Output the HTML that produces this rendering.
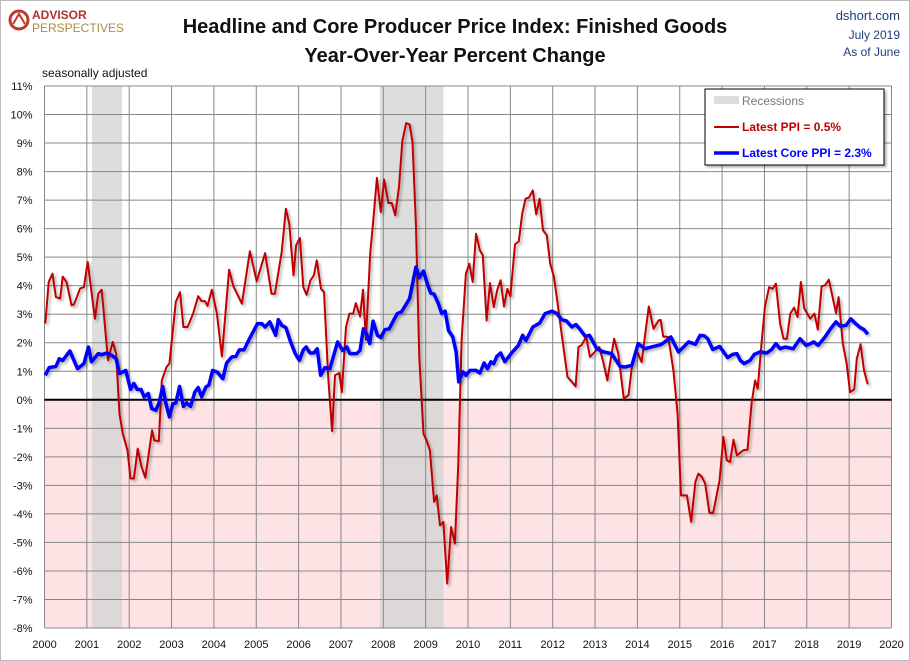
<!DOCTYPE html>
<html><head><meta charset="utf-8">
<style>
body{margin:0;background:#fff;font-family:"Liberation Sans",sans-serif;}
#wrap{position:relative;width:908px;height:659px;border:1px solid #bbb;overflow:hidden;background:#fff}
svg text{font-family:"Liberation Sans",sans-serif}
</style></head><body>
<div id="wrap">
<svg id="chart" width="910" height="661" style="position:absolute;left:-1px;top:-1px">
<defs><filter id="sh" x="-5%" y="-5%" width="110%" height="110%"><feDropShadow dx="2" dy="2" stdDeviation="1.2" flood-color="#000" flood-opacity="0.3"/></filter></defs>
<g id="bg"></g><g id="grid"></g><g id="series"></g><g id="axes"></g>
<text x="455" y="33" text-anchor="middle" font-size="20" font-weight="bold" fill="#111">Headline and Core Producer Price Index: Finished Goods</text>
<text x="455" y="62" text-anchor="middle" font-size="20" font-weight="bold" fill="#111">Year-Over-Year Percent Change</text>
<text x="900" y="20" text-anchor="end" font-size="13" fill="#1f3d7a">dshort.com</text>
<text x="900" y="39" text-anchor="end" font-size="12" fill="#1f3d7a">July 2019</text>
<text x="900" y="56" text-anchor="end" font-size="12" fill="#1f3d7a">As of June</text>
<text x="42" y="77" font-size="12" fill="#111">seasonally adjusted</text>
<g>
<circle cx="19" cy="20" r="9" fill="none" stroke="#c0392b" stroke-width="3"/>
<path d="M13 24 L19 14 L25 24" fill="none" stroke="#c0392b" stroke-width="2"/>
<text x="32" y="19" font-size="12" font-weight="bold" fill="#b03030">ADVISOR</text>
<text x="32" y="32" font-size="12" fill="#b08a40">PERSPECTIVES</text>
</g>
<g filter="url(#sh)">
<rect x="705" y="89" width="179" height="76" fill="#fff" stroke="#000" stroke-width="1"/>
</g>
<rect x="714" y="96" width="25" height="8" fill="#ddd"/>
<text x="742" y="105" font-size="12" fill="#777">Recessions</text>
<line x1="714" y1="127" x2="739" y2="127" stroke="#c00000" stroke-width="2"/>
<text x="742" y="131" font-size="12" fill="#c00000" font-weight="bold">Latest PPI = 0.5%</text>
<line x1="714" y1="153" x2="739" y2="153" stroke="#0000ff" stroke-width="3.5"/>
<text x="742" y="157" font-size="12" fill="#0000ff" font-weight="bold">Latest Core PPI = 2.3%</text>
</svg>
</div>
<script>
const ppiDates=[2000.02,2000.1,2000.19,2000.27,2000.37,2000.43,2000.52,2000.64,2000.7,2000.84,2000.93,2001.02,2001.19,2001.27,2001.35,2001.5,2001.61,2001.69,2001.77,2001.85,2001.96,2002.03,2002.11,2002.2,2002.29,2002.38,2002.54,2002.59,2002.7,2002.77,2002.88,2002.95,2003.1,2003.2,2003.28,2003.38,2003.51,2003.63,2003.71,2003.79,2003.85,2003.95,2004.07,2004.19,2004.36,2004.46,2004.66,2004.85,2005.01,2005.21,2005.36,2005.44,2005.6,2005.7,2005.78,2005.88,2005.94,2006.03,2006.11,2006.19,2006.28,2006.36,2006.43,2006.53,2006.6,2006.7,2006.79,2006.86,2006.96,2007.02,2007.12,2007.2,2007.29,2007.35,2007.45,2007.52,2007.59,2007.69,2007.77,2007.85,2007.94,2008.02,2008.12,2008.2,2008.28,2008.37,2008.45,2008.54,2008.62,2008.69,2008.77,2008.85,2008.95,2009.02,2009.1,2009.2,2009.26,2009.34,2009.42,2009.51,2009.6,2009.69,2009.77,2009.85,2009.95,2010.03,2010.11,2010.19,2010.28,2010.35,2010.44,2010.52,2010.61,2010.69,2010.77,2010.85,2010.93,2011.0,2011.11,2011.2,2011.28,2011.36,2011.44,2011.53,2011.61,2011.69,2011.77,2011.86,2011.94,2012.03,2012.11,2012.21,2012.35,2012.45,2012.54,2012.61,2012.68,2012.79,2012.88,2013.1,2013.2,2013.29,2013.45,2013.55,2013.68,2013.79,2013.87,2013.98,2014.1,2014.27,2014.38,2014.5,2014.55,2014.61,2014.73,2014.85,2014.95,2015.03,2015.17,2015.27,2015.37,2015.44,2015.52,2015.6,2015.7,2015.79,2015.94,2016.03,2016.11,2016.19,2016.27,2016.35,2016.5,2016.6,2016.7,2016.78,2016.84,2016.93,2017.01,2017.11,2017.19,2017.27,2017.37,2017.45,2017.53,2017.61,2017.7,2017.78,2017.86,2017.94,2018.08,2018.18,2018.26,2018.35,2018.43,2018.52,2018.61,2018.69,2018.75,2018.85,2018.94,2019.02,2019.12,2019.18,2019.27,2019.35,2019.44];
const ppiValues=[2.67,4.13,4.42,3.6,3.55,4.32,4.13,3.31,3.35,3.9,3.95,4.83,2.84,3.72,3.86,1.38,2.03,1.62,-0.49,-1.19,-1.77,-2.76,-2.76,-1.71,-2.35,-2.73,-1.07,-1.42,-1.45,0.68,1.15,1.27,3.43,3.77,2.55,2.55,3.02,3.63,3.46,3.46,3.29,3.86,3.02,1.52,4.56,3.98,3.37,5.21,4.15,5.14,3.72,3.72,5.18,6.7,6.17,4.36,5.41,5.67,3.95,3.68,4.19,4.36,4.89,3.89,3.77,0.8,-1.1,0.86,0.94,0.27,2.55,3.02,3.02,3.39,2.92,3.86,2.1,5.12,6.41,7.78,6.58,7.72,6.9,6.9,6.47,7.46,9.09,9.7,9.65,9.04,6.17,1.5,-1.19,-1.42,-1.77,-3.58,-3.35,-4.4,-4.28,-6.44,-4.46,-5.04,-2.24,2.09,4.42,4.77,4.13,5.82,5.24,5.06,2.78,4.09,3.25,3.84,4.19,3.27,3.89,3.63,5.45,5.55,6.52,7.05,7.09,7.34,6.5,7.05,5.94,5.77,4.77,4.3,3.43,2.32,0.8,0.63,0.47,1.85,1.91,2.2,1.5,1.85,1.29,0.68,2.14,1.62,0.04,0.16,1.15,1.73,1.32,3.27,2.49,2.78,2.8,2.22,2.2,1.03,-0.49,-3.35,-3.35,-4.28,-2.88,-2.59,-2.7,-2.94,-3.96,-3.96,-2.82,-1.3,-2.12,-2.18,-1.4,-1.95,-1.77,-1.75,-0.08,0.68,0.39,1.97,3.25,3.95,3.89,4.07,2.67,2.14,2.14,3.02,3.23,2.9,4.13,3.2,2.84,3.02,2.46,3.98,4.01,4.21,3.6,3.04,3.6,1.97,1.29,0.27,0.36,1.44,1.95,1.03,0.54];
const coreDates=[2000.02,2000.11,2000.27,2000.35,2000.43,2000.6,2000.78,2000.93,2001.04,2001.11,2001.27,2001.35,2001.47,2001.59,2001.69,2001.77,2001.92,2002.03,2002.11,2002.19,2002.28,2002.35,2002.45,2002.53,2002.63,2002.71,2002.79,2002.87,2002.95,2003.03,2003.1,2003.19,2003.28,2003.36,2003.45,2003.55,2003.63,2003.71,2003.81,2003.88,2003.97,2004.08,2004.21,2004.3,2004.42,2004.52,2004.6,2004.71,2004.84,2005.03,2005.13,2005.21,2005.32,2005.46,2005.52,2005.6,2005.7,2005.81,2005.92,2006.02,2006.11,2006.18,2006.27,2006.36,2006.44,2006.52,2006.62,2006.74,2006.92,2007.04,2007.14,2007.21,2007.37,2007.45,2007.53,2007.6,2007.68,2007.76,2007.86,2007.94,2008.04,2008.14,2008.24,2008.33,2008.43,2008.54,2008.62,2008.77,2008.85,2008.95,2009.04,2009.12,2009.2,2009.3,2009.38,2009.46,2009.54,2009.64,2009.72,2009.78,2009.88,2009.95,2010.05,2010.19,2010.28,2010.38,2010.46,2010.54,2010.61,2010.68,2010.77,2010.87,2011.03,2011.19,2011.29,2011.37,2011.53,2011.69,2011.82,2011.98,2012.1,2012.21,2012.33,2012.45,2012.55,2012.65,2012.77,2012.87,2013.04,2013.2,2013.39,2013.59,2013.71,2013.87,2014.02,2014.18,2014.38,2014.55,2014.65,2014.79,2014.87,2014.97,2015.09,2015.21,2015.37,2015.48,2015.58,2015.66,2015.78,2015.94,2016.13,2016.25,2016.35,2016.43,2016.52,2016.66,2016.76,2016.9,2017.05,2017.17,2017.27,2017.37,2017.49,2017.68,2017.84,2017.98,2018.09,2018.16,2018.27,2018.43,2018.56,2018.69,2018.79,2018.93,2019.04,2019.15,2019.26,2019.35,2019.44];
const coreValues=[0.86,1.13,1.17,1.44,1.38,1.71,1.09,1.27,1.85,1.33,1.62,1.58,1.64,1.56,1.44,0.92,1.03,0.36,0.57,0.36,0.36,0.1,0.22,-0.31,-0.37,-0.08,0.47,-0.14,-0.6,-0.14,-0.11,0.47,-0.23,-0.11,-0.23,0.27,0.43,0.1,0.45,0.51,1.03,0.97,0.74,1.29,1.5,1.52,1.75,1.75,2.14,2.67,2.67,2.55,2.73,2.26,2.81,2.61,2.53,2.03,1.62,1.38,1.75,1.85,1.64,1.64,1.79,0.86,1.13,1.09,2.03,1.73,1.85,1.62,1.62,1.73,2.49,2.32,1.97,2.76,2.26,2.18,2.46,2.49,2.78,3.02,3.08,3.35,3.55,4.65,4.28,4.51,4.07,3.74,3.7,3.37,3.02,3.11,2.43,2.2,1.68,0.63,0.98,0.86,1.03,1.03,0.94,1.29,1.09,1.33,1.27,1.52,1.64,1.33,1.64,1.91,2.26,2.08,2.55,2.69,3.02,3.11,3.02,2.81,2.76,2.55,2.64,2.46,2.22,2.26,1.79,1.68,1.62,1.17,1.15,1.21,1.97,1.79,1.87,1.93,2.03,2.2,1.97,1.68,1.85,2.03,1.95,2.26,2.24,2.14,1.76,1.87,1.48,1.59,1.62,1.38,1.27,1.38,1.59,1.68,1.64,1.76,1.97,1.79,1.85,1.79,2.14,1.91,1.97,2.03,1.91,2.2,2.49,2.73,2.58,2.61,2.84,2.67,2.53,2.46,2.3];
const recessionStarts=[2001.12,2007.92];
const recessionEnds=[2001.83,2009.42];
const yTicks=[11,10,9,8,7,6,5,4,3,2,1,0,-1,-2,-3,-4,-5,-6,-7,-8];
const xTicks=[2000,2001,2002,2003,2004,2005,2006,2007,2008,2009,2010,2011,2012,2013,2014,2015,2016,2017,2018,2019,2020];

const NS='http://www.w3.org/2000/svg';
const L=44.5,R=891.5,T=86,B=628,X0=2000,X1=2020,Y0=-8,Y1=11;
const xs=v=>L+(v-X0)/(X1-X0)*(R-L);
const ys=v=>B-(v-Y0)/(Y1-Y0)*(B-T);
function mk(tag,attrs,parent){const e=document.createElementNS(NS,tag);for(const k in attrs)e.setAttribute(k,attrs[k]);parent.appendChild(e);return e;}
const bg=document.getElementById('bg'),grid=document.getElementById('grid'),ser=document.getElementById('series'),ax=document.getElementById('axes');

let neg=mk('rect',{x:L,y:ys(0),width:R-L,height:B-ys(0),fill:'#fde3e3'},bg);


recessionStarts.forEach((s,i)=>{
  const r=mk('rect',{x:xs(s),y:T,width:xs(recessionEnds[i])-xs(s),height:B-T,fill:'#d4d4d4','fill-opacity':0.8},bg);
  
  
});
yTicks.forEach(t=>{
  const l=mk('line',{x1:L,x2:R,y1:ys(t),y2:ys(t),stroke:'#888','stroke-width':1},grid);
  
  
  const tx=mk('text',{x:L-12,y:ys(t)+4,'text-anchor':'end','font-size':11,fill:'#111'},ax);
  tx.textContent=t+'%';
  
  
});
xTicks.forEach(t=>{
  const l=mk('line',{x1:xs(t),x2:xs(t),y1:T,y2:B,stroke:'#888','stroke-width':1},grid);
  
  
  const tx=mk('text',{x:xs(t),y:B+20,'text-anchor':'middle','font-size':11,fill:'#111'},ax);
  tx.textContent=t;
  
  
});
const zl=mk('line',{x1:L,x2:R,y1:ys(0),y2:ys(0),stroke:'#000','stroke-width':2},grid);


function path(d,v){return d.map((x,i)=>(i?'L':'M')+xs(x).toFixed(1)+' '+ys(v[i]).toFixed(1)).join(' ');}
const pp=mk('path',{d:path(ppiDates,ppiValues),fill:'none',stroke:'#c00000','stroke-width':2,'stroke-linejoin':'round',filter:'url(#sh)'},ser);


const cp=mk('path',{d:path(coreDates,coreValues),fill:'none',stroke:'#0000ff','stroke-width':3.5,'stroke-linejoin':'round',filter:'url(#sh)'},ser);


</script>
</body></html>
